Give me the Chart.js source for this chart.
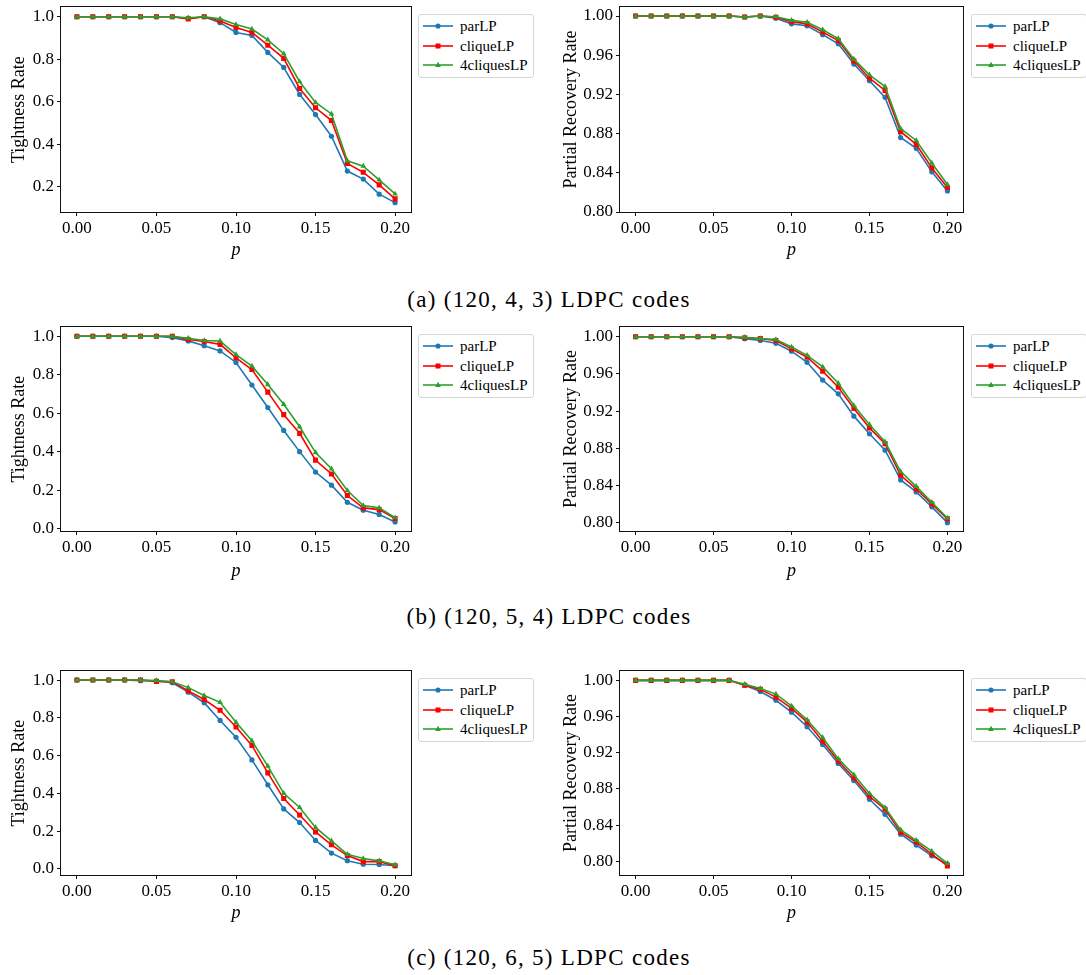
<!DOCTYPE html>
<html><head><meta charset="utf-8">
<script src="https://cdn.jsdelivr.net/npm/chart.js@4/dist/chart.umd.min.js"></script>
<style>
html,body{margin:0;padding:0;background:#fff;}
body{width:1086px;height:975px;position:relative;overflow:hidden;font-family:"Liberation Serif",serif;color:#000;}
canvas.plot{position:absolute;}
.legend{position:absolute;border:1px solid #d6d6d6;border-radius:3px;background:#fff;width:116px;height:64px;box-sizing:border-box;}
.legend .row{position:absolute;left:0;height:18px;width:114px;}
.legend svg{position:absolute;left:4px;top:3px;}
.legend span{position:absolute;left:41px;top:0;line-height:18px;font-size:15px;white-space:nowrap;}
.caption{position:absolute;transform:translateX(-50%);font-size:23px;line-height:23px;letter-spacing:1.3px;white-space:nowrap;}
</style></head><body>
<script>
// ---------------- data ----------------
const pValues = [0.00,0.01,0.02,0.03,0.04,0.05,0.06,0.07,0.08,0.09,0.10,0.11,0.12,0.13,0.14,0.15,0.16,0.17,0.18,0.19,0.20];
const seriesNames = ['parLP','cliqueLP','4cliquesLP'];

// (a) (120,4,3)
const parLP_a_tight        = [1,1,1,1,1,1,1,0.992,1,0.972,0.926,0.912,0.832,0.761,0.634,0.539,0.437,0.273,0.235,0.164,0.124];
const cliqueLP_a_tight     = [1,1,1,1,1,1,1,0.990,1,0.980,0.949,0.926,0.866,0.804,0.662,0.571,0.511,0.309,0.267,0.208,0.142];
const fourCliques_a_tight  = [1,1,1,1,1,1,1,0.995,1,0.990,0.963,0.942,0.891,0.826,0.694,0.596,0.542,0.321,0.296,0.231,0.165];
const parLP_a_part         = [1,1,1,1,1,1,1,0.999,1,0.9977,0.992,0.990,0.981,0.9716,0.951,0.934,0.917,0.876,0.865,0.841,0.8215];
const cliqueLP_a_part      = [1,1,1,1,1,1,1,0.999,1,0.9987,0.9943,0.992,0.9836,0.975,0.954,0.9365,0.924,0.882,0.869,0.845,0.825];
const fourCliques_a_part   = [1,1,1,1,1,1,1,0.999,1,0.9993,0.9957,0.9937,0.986,0.977,0.956,0.940,0.928,0.885,0.873,0.850,0.828];

// (b) (120,5,4)
const parLP_b_tight        = [1,1,1,1,1,1,0.993,0.976,0.951,0.924,0.864,0.747,0.630,0.511,0.401,0.295,0.227,0.138,0.097,0.075,0.036];
const cliqueLP_b_tight     = [1,1,1,1,1,1,1,0.983,0.973,0.958,0.888,0.827,0.710,0.593,0.496,0.357,0.285,0.173,0.109,0.100,0.054];
const fourCliques_b_tight  = [1,1,1,1,1,1,1,0.990,0.978,0.975,0.905,0.845,0.749,0.647,0.530,0.396,0.312,0.199,0.121,0.109,0.058];
const parLP_b_part         = [1,1,1,1,1,1,1,0.998,0.996,0.993,0.9845,0.9725,0.9534,0.9386,0.9146,0.8956,0.878,0.846,0.833,0.817,0.800];
const cliqueLP_b_part      = [1,1,1,1,1,1,1,0.999,0.998,0.996,0.987,0.978,0.963,0.9457,0.9228,0.902,0.885,0.851,0.8363,0.820,0.804];
const fourCliques_b_part   = [1,1,1,1,1,1,1,0.9995,0.998,0.997,0.989,0.980,0.9675,0.950,0.926,0.9055,0.887,0.855,0.839,0.822,0.805];

// (c) (120,6,5)
const parLP_c_tight        = [1,1,1,1,0.997,0.995,0.986,0.936,0.880,0.786,0.697,0.577,0.445,0.317,0.245,0.150,0.083,0.043,0.024,0.023,0.016];
const cliqueLP_c_tight     = [1,1,1,1,1,0.993,0.991,0.943,0.897,0.840,0.751,0.654,0.508,0.372,0.285,0.195,0.127,0.070,0.038,0.038,0.016];
const fourCliques_c_tight  = [1,1,1,1,1,0.997,0.991,0.960,0.918,0.882,0.776,0.678,0.544,0.400,0.325,0.219,0.148,0.077,0.054,0.042,0.021];
const parLP_c_part         = [1,1,1,1,1,1,1,0.9946,0.9877,0.978,0.9648,0.9488,0.9292,0.9082,0.8893,0.8686,0.852,0.830,0.8181,0.8062,0.797];
const cliqueLP_c_part      = [1,1,1,1,1,1,1,0.9946,0.990,0.9815,0.969,0.9539,0.9328,0.911,0.8922,0.8719,0.8577,0.8323,0.8214,0.808,0.795];
const fourCliques_c_part   = [1,1,1,1,1,1,1,0.9956,0.991,0.9848,0.9717,0.9564,0.9368,0.9132,0.8958,0.8751,0.8595,0.8348,0.8232,0.8113,0.7978];

// tick labels
const xTickValues = [0, 0.05, 0.10, 0.15, 0.20];
const xTickLabels = ['0.00','0.05','0.10','0.15','0.20'];
const tightTicksA = [0.2, 0.4, 0.6, 0.8, 1.0];
const tightTickLabelsA = ['0.2','0.4','0.6','0.8','1.0'];
const tightTicksBC = [0.0, 0.2, 0.4, 0.6, 0.8, 1.0];
const tightTickLabelsBC = ['0.0','0.2','0.4','0.6','0.8','1.0'];
const partialTicks = [0.80, 0.84, 0.88, 0.92, 0.96, 1.00];
const partialTickLabels = ['0.80','0.84','0.88','0.92','0.96','1.00'];

const captions = ['(a) (120, 4, 3) LDPC codes', '(b) (120, 5, 4) LDPC codes', '(c) (120, 6, 5) LDPC codes'];
const yTitleTight = 'Tightness Rate';
const yTitlePartial = 'Partial Recovery Rate';
const xTitle = 'p';

// ---------------- style / layout ----------------
const colors = ['#1f77b4', '#ff0000', '#2ca02c'];
const pointStyles = ['circle', 'rect', 'triangle'];
const pointRadii = [2.6, 3.6, 3.3];
const FONT = "'Liberation Serif', 'Times New Roman', serif";

const panels = [
  {series:[parLP_a_tight, cliqueLP_a_tight, fourCliques_a_tight], yTicks:tightTicksA, yLabels:tightTickLabelsA, yTitle:yTitleTight, yMin:0.08, yMax:1.045, box:[61,7,350,208], L:53, B:49},
  {series:[parLP_a_part, cliqueLP_a_part, fourCliques_a_part], yTicks:partialTicks, yLabels:partialTickLabels, yTitle:yTitlePartial, yMin:0.80, yMax:1.009, box:[620,7,343,208], L:60, B:49},
  {series:[parLP_b_tight, cliqueLP_b_tight, fourCliques_b_tight], yTicks:tightTicksBC, yLabels:tightTickLabelsBC, yTitle:yTitleTight, yMin:-0.011, yMax:1.047, box:[61,327,350,207], L:53, B:51},
  {series:[parLP_b_part, cliqueLP_b_part, fourCliques_b_part], yTicks:partialTicks, yLabels:partialTickLabels, yTitle:yTitlePartial, yMin:0.791, yMax:1.0103, box:[620,327,343,207], L:60, B:51},
  {series:[parLP_c_tight, cliqueLP_c_tight, fourCliques_c_tight], yTicks:tightTicksBC, yLabels:tightTickLabelsBC, yTitle:yTitleTight, yMin:-0.033, yMax:1.047, box:[61,671,350,207], L:53, B:49},
  {series:[parLP_c_part, cliqueLP_c_part, fourCliques_c_part], yTicks:partialTicks, yLabels:partialTickLabels, yTitle:yTitlePartial, yMin:0.785, yMax:1.0101, box:[620,671,343,207], L:60, B:49}
];
const legendPos = [[418,14],[971,14],[418,334],[971,334],[418,678],[971,678]];
const captionPos = [[549,287.5],[549,605],[549,946]];

const framePlugin = {
  id: 'frame',
  afterDraw(chart) {
    const a = chart.chartArea, c = chart.ctx;
    c.save();
    c.strokeStyle = '#111';
    c.lineWidth = 1;
    c.strokeRect(Math.round(a.left) - 0.5, Math.round(a.top) - 0.5, Math.round(a.right - a.left) + 1, Math.round(a.bottom - a.top) + 1);
    c.restore();
  }
};

const T = 10, R = 22;

panels.forEach((pn, idx) => {
  const [bx, by, bw, bh] = pn.box;
  const B = pn.B;
  const cv = document.createElement('canvas');
  cv.className = 'plot';
  cv.width = pn.L + bw + R;
  cv.height = T + bh + B;
  cv.style.left = (bx - pn.L) + 'px';
  cv.style.top = (by - T) + 'px';
  document.body.appendChild(cv);

  const datasets = pn.series.map((vals, si) => ({
    label: seriesNames[si],
    data: pValues.map((p, i) => ({x: p, y: vals[i]})),
    borderColor: colors[si],
    backgroundColor: colors[si],
    borderWidth: 1.6,
    pointStyle: pointStyles[si],
    pointRadius: pointRadii[si],
    pointBorderWidth: 0,
    pointBackgroundColor: colors[si],
    tension: 0,
    order: 3 - si
  }));

  const chart = new Chart(cv, {
    type: 'line',
    data: {datasets},
    plugins: [framePlugin],
    options: {
      responsive: false,
      animation: false,
      devicePixelRatio: 1,
      layout: {padding: {left: 0, top: T, right: R, bottom: 0}},
      plugins: {legend: {display: false}, tooltip: {enabled: false}},
      scales: {
        x: {
          type: 'linear', min: -0.01, max: 0.21,
          afterBuildTicks: s => { s.ticks = xTickValues.map(v => ({value: v})); },
          afterFit: s => { s.height = B; },
          ticks: {
            color: '#000', padding: 2, maxRotation: 0, autoSkip: false,
            font: {family: FONT, size: 17},
            callback: (v) => { const k = xTickValues.findIndex(t => Math.abs(t - v) < 1e-9); return k >= 0 ? xTickLabels[k] : ''; }
          },
          grid: {display: true, drawOnChartArea: false, drawTicks: true, tickLength: 4, color: '#111', lineWidth: 1},
          border: {display: false},
          title: {display: true, text: xTitle, color: '#000', padding: 0, font: {family: FONT, size: 18, style: 'italic', lineHeight: 1.2}}
        },
        y: {
          type: 'linear', min: pn.yMin, max: pn.yMax,
          afterBuildTicks: s => { s.ticks = pn.yTicks.map(v => ({value: v})); },
          afterFit: s => { s.width = pn.L; },
          ticks: {
            color: '#000', padding: 3, autoSkip: false,
            font: {family: FONT, size: 17},
            callback: (v) => { const k = pn.yTicks.findIndex(t => Math.abs(t - v) < 1e-9); return k >= 0 ? pn.yLabels[k] : ''; }
          },
          grid: {display: true, drawOnChartArea: false, drawTicks: true, tickLength: 4, color: '#111', lineWidth: 1},
          border: {display: false},
          title: {display: true, text: pn.yTitle, color: '#000', padding: 0, font: {family: FONT, size: 18, lineHeight: 1.2}}
        }
      }
    }
  });
  // align the plotting area with the intended position on the page
  const ca = chart.chartArea;
  cv.style.left = (bx - ca.left) + 'px';
  cv.style.top = (by - ca.top) + 'px';

  // legend (HTML, real text)
  const lg = document.createElement('div');
  lg.className = 'legend';
  lg.style.left = legendPos[idx][0] + 'px';
  lg.style.top = legendPos[idx][1] + 'px';
  seriesNames.forEach((name, si) => {
    const row = document.createElement('div');
    row.className = 'row';
    row.style.top = (2 + si * 19.5) + 'px';
    let marker = '';
    if (si === 0) marker = `<circle cx="15" cy="6" r="2.6" fill="${colors[0]}"/>`;
    if (si === 1) marker = `<rect x="12.5" y="3.5" width="5" height="5" fill="${colors[1]}"/>`;
    if (si === 2) marker = `<polygon points="15,2.7 17.9,7.9 12.1,7.9" fill="${colors[2]}"/>`;
    row.innerHTML = `<svg width="30" height="12" viewBox="0 0 30 12"><line x1="0" y1="6" x2="30" y2="6" stroke="${colors[si]}" stroke-width="1.6"/>${marker}</svg><span>${name}</span>`;
    lg.appendChild(row);
  });
  document.body.appendChild(lg);
});

captions.forEach((t, i) => {
  const d = document.createElement('div');
  d.className = 'caption';
  d.textContent = t;
  d.style.left = captionPos[i][0] + 'px';
  d.style.top = captionPos[i][1] + 'px';
  document.body.appendChild(d);
});
</script>
</body></html>
